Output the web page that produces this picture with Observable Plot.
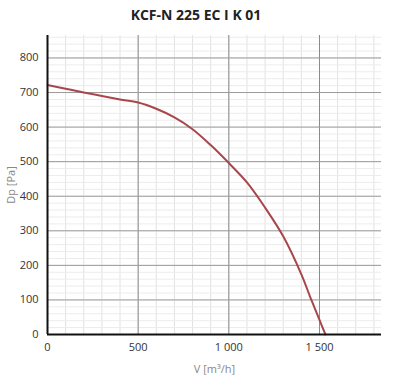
<!DOCTYPE html>
<html><head><meta charset="utf-8">
<script src="https://cdn.jsdelivr.net/npm/d3@7"></script>
<script src="https://cdn.jsdelivr.net/npm/@observablehq/plot@0.6"></script>
<style>
body{margin:0;background:#fff;font-family:"Open Sans",sans-serif;}
#title{height:30px;line-height:30px;text-align:center;font-weight:bold;font-size:14px;color:#222;width:392px;}
</style></head><body>
<div id="title">KCF-N 225 EC I K 01</div>
<div id="chart"></div>
<script>
const flow = [0,100,200,300,400,500,600,700,800,900,1000,1100,1200,1300,1400,1450,1500,1533];
const pressure = [722,711,700,690,680,671,653,628,594,548,496,440,367,284,174,107,42,0];
const xTicks = [0,500,1000,1500];
const yTicks = [0,100,200,300,400,500,600,700,800];
const xMinor = d3.range(0,1900,100);
const yMinor = d3.range(0,880,20);

const data = flow.map((v,i)=>({v, p: pressure[i]}));
const fmt = d => d >= 1000 ? d3.format(",")(d).replace(",", " ") : String(d);

const chart = Plot.plot({
  width: 400, height: 347,
  marginLeft: 47, marginRight: 19, marginTop: 5, marginBottom: 43,
  style: {fontFamily: '"Open Sans", sans-serif', fontSize: "11px", color: "#333", background: "#fff"},
  x: {domain: [0,1842], ticks: xTicks, tickFormat: fmt, tickSize: 0, tickPadding: 9, label: "V [m³/h]", labelAnchor: "center", labelOffset: 38, labelArrow: "none"},
  y: {domain: [0,865], ticks: yTicks, tickSize: 0, tickPadding: 9, label: "Dp [Pa]", labelAnchor: "center", labelOffset: 40, labelArrow: "none"},
  marks: [
    Plot.ruleX(xMinor, {stroke: "#e2e2e2", strokeWidth: 1}),
    Plot.ruleY(yMinor, {stroke: "#ececec", strokeWidth: 1}),
    Plot.ruleX(xTicks.slice(1), {stroke: "#8a8a8a", strokeWidth: 1}),
    Plot.ruleY(yTicks.slice(1), {stroke: "#9a9a9a", strokeWidth: 1}),
    Plot.line(data, {x: "v", y: "p", stroke: "#a8464c", strokeWidth: 2, curve: "catmull-rom"}),
    Plot.ruleX([0], {stroke: "#111", strokeWidth: 2}),
    Plot.ruleY([0], {stroke: "#111", strokeWidth: 2})
  ]
});
document.getElementById("chart").appendChild(chart);
d3.select(chart).selectAll('[aria-label="x-axis label"] text, [aria-label="y-axis label"] text')
  .attr("fill","#888").style("font-size","11px")
  .text(function(){ return this.textContent.replace(/\s*[→↑←↓]\s*/g, "").trim(); });
</script>
</body></html>
